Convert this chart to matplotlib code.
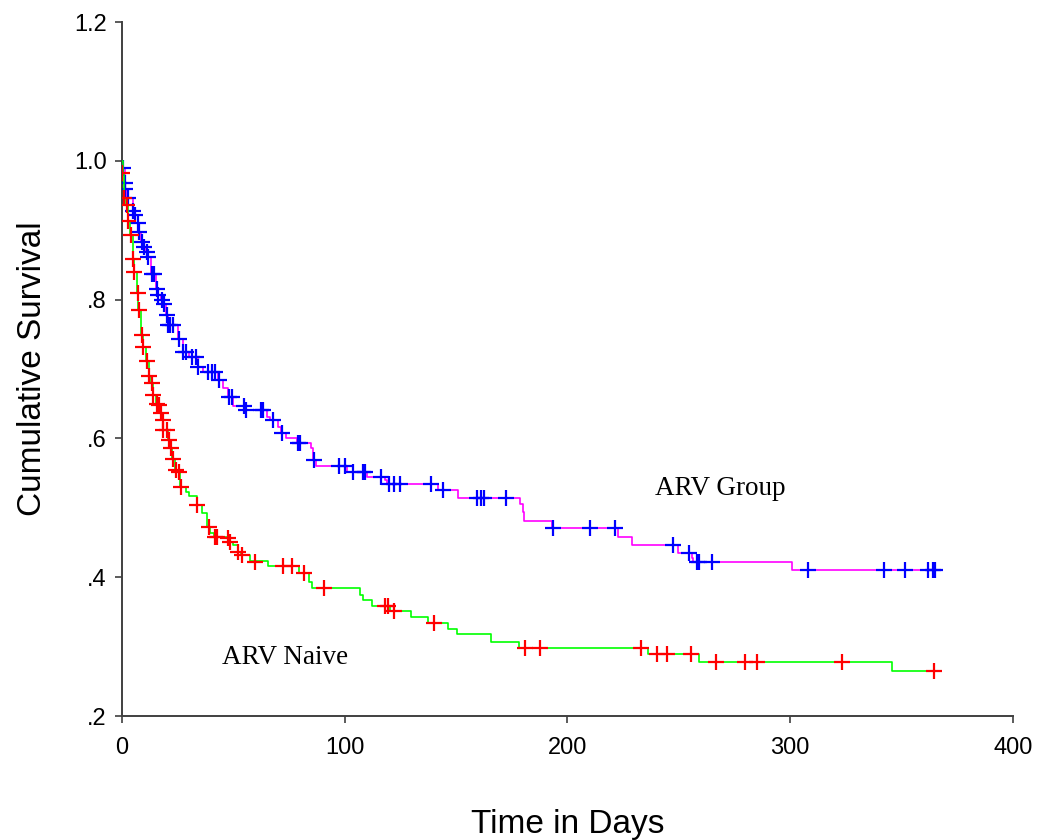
import matplotlib
matplotlib.use("Agg")
import matplotlib.pyplot as plt

# ---- ARV Group (step curve) ----
arv_t = [0, 0.2, 1.2, 1.5, 2.4, 4.8, 5.6, 7.0, 7.5, 8.6, 9.8, 10.8, 11.6, 13.0,
         15.3, 16.1, 17.5, 18.8, 19.8, 20.6, 25.3, 27.2, 30.0, 34.0, 36.5, 43.2,
         45.5, 47.5, 50.0, 55.3, 65.2, 66.5, 69.9, 71.2, 73.6, 78.5, 84.8, 85.9,
         87.1, 101.1, 110.1, 118.0, 118.8, 141.7, 150.7, 178.7, 179.9, 180.6,
         192.9, 222.8, 229.1, 249.7, 255.8, 256.2, 300.9, 365.0]
arv_s = [1.0, 0.989, 0.968, 0.960, 0.946, 0.928, 0.922, 0.910, 0.898, 0.883, 0.876,
         0.869, 0.862, 0.837, 0.815, 0.807, 0.799, 0.794, 0.778, 0.763, 0.743,
         0.725, 0.717, 0.703, 0.696, 0.684, 0.672, 0.660, 0.646, 0.641, 0.631,
         0.627, 0.617, 0.608, 0.600, 0.594, 0.586, 0.569, 0.560, 0.552, 0.544,
         0.540, 0.535, 0.525, 0.514, 0.505, 0.494, 0.481, 0.471, 0.458, 0.447,
         0.435, 0.428, 0.422, 0.410, 0.410]

# ARV Group censored observations
arv_cens_t = [0.3, 1.35, 1.35, 2.6, 5.1, 5.8, 7.3, 7.6, 8.8, 10.0, 11.1, 11.8, 13.3,
              14.5, 15.6, 16.3, 17.8, 19.0, 20.1, 20.8, 21.5, 23.0, 25.6, 27.5, 28.6,
              31.3, 33.1, 34.3, 38.5, 40.3, 41.8, 43.5, 48.0, 49.2, 54.8, 55.7, 62.3,
              63.4, 67.7, 71.7, 79.1, 79.9, 86.2, 97.6, 100.1, 103.6, 108.3, 109.1,
              116.1, 120.0, 122.2, 124.8, 138.7, 144.2, 159.2, 161.0, 162.6, 172.4,
              193.6, 210.1, 221.3, 247.2, 254.7, 258.0, 259.0, 264.7, 308.1, 342.2,
              351.5, 362.0, 364.2, 365.0]
arv_cens_s = [0.989, 0.968, 0.960, 0.946, 0.928, 0.922, 0.910, 0.898, 0.883, 0.876,
              0.869, 0.862, 0.837, 0.837, 0.815, 0.807, 0.799, 0.794, 0.778, 0.763,
              0.763, 0.763, 0.743, 0.725, 0.725, 0.717, 0.717, 0.703, 0.696, 0.696,
              0.696, 0.684, 0.660, 0.660, 0.646, 0.641, 0.641, 0.641, 0.627, 0.608,
              0.594, 0.594, 0.569, 0.560, 0.560, 0.552, 0.552, 0.552, 0.544, 0.535,
              0.535, 0.535, 0.535, 0.525, 0.514, 0.514, 0.514, 0.514, 0.471, 0.471,
              0.471, 0.447, 0.435, 0.422, 0.422, 0.422, 0.410, 0.410, 0.410, 0.410,
              0.410, 0.410]

# ---- ARV Naive (step curve) ----
naive_t = [0, 0.3, 0.8, 2.0, 2.6, 3.8, 4.8, 5.3, 6.8, 7.4, 8.5, 9.4, 10.8, 12.0,
           13.0, 13.9, 15.3, 17.0, 18.0, 18.5, 20.8, 21.8, 22.5, 23.8, 26.2, 28.7,
           29.9, 33.5, 35.8, 38.0, 39.5, 41.5, 47.5, 50.0, 52.0, 53.5, 57.5, 65.7,
           79.6, 84.1, 85.2, 106.8, 108.1, 112.1, 120.4, 129.6, 137.5, 146.5, 150.5,
           165.7, 178.2, 236.3, 259.0, 345.8, 365.0]
naive_s = [1.0, 0.982, 0.947, 0.937, 0.913, 0.893, 0.858, 0.840, 0.809, 0.785, 0.749,
           0.732, 0.711, 0.690, 0.680, 0.662, 0.650, 0.636, 0.626, 0.612, 0.598, 0.586,
           0.570, 0.554, 0.530, 0.523, 0.517, 0.504, 0.492, 0.473, 0.464, 0.458,
           0.451, 0.446, 0.437, 0.432, 0.423, 0.416, 0.4065, 0.3935, 0.384, 0.375,
           0.367, 0.359, 0.351, 0.342, 0.334, 0.326, 0.318, 0.307, 0.298, 0.290,
           0.278, 0.265, 0.265]

naive_cens_t = [0.0, 1.0, 2.1, 2.8, 4.0, 5.1, 5.5, 7.0, 7.6, 8.8, 9.6, 11.1, 12.3,
                13.3, 14.1, 15.6, 16.7, 17.3, 18.3, 18.6, 20.3, 21.1, 22.0, 22.8, 24.1,
                25.7, 26.5, 33.8, 39.1, 41.8, 42.8, 47.7, 48.5, 52.2, 53.7, 59.7, 72.4,
                76.2, 81.8, 90.7, 118.1, 119.6, 122.1, 140.2, 180.9, 187.7, 232.9,
                240.0, 244.5, 255.3, 266.7, 279.7, 285.2, 323.1, 364.7]
naive_cens_s = [0.982, 0.947, 0.937, 0.913, 0.893, 0.858, 0.840, 0.809, 0.785, 0.749,
                0.732, 0.711, 0.690, 0.680, 0.662, 0.650, 0.648, 0.636, 0.626, 0.612,
                0.612, 0.598, 0.586, 0.570, 0.554, 0.552, 0.530, 0.504, 0.473, 0.458,
                0.458, 0.456, 0.451, 0.437, 0.432, 0.422, 0.416, 0.416, 0.4065, 0.384,
                0.359, 0.359, 0.351, 0.334, 0.298, 0.298, 0.298, 0.290, 0.290, 0.290,
                0.278, 0.278, 0.278, 0.278, 0.265]

x_ticks = [0, 100, 200, 300, 400]
y_ticks = [0.2, 0.4, 0.6, 0.8, 1.0, 1.2]
y_tick_labels = [".2", ".4", ".6", ".8", "1.0", "1.2"]

fig = plt.figure(figsize=(10.4, 8.4), dpi=100)
ax = fig.add_axes([0.1173, 0.1476, 0.8567, 0.8262])

ax.step(arv_t, arv_s, where="post", color="#ff00ff", lw=1.2, zorder=2)
ax.plot(arv_cens_t, arv_cens_s, linestyle="none", marker="+", markersize=11,
        markeredgewidth=1.6, color="#0000ff", zorder=3)
ax.step(naive_t, naive_s, where="post", color="#00ff00", lw=1.2, zorder=4)
ax.plot(naive_cens_t, naive_cens_s, linestyle="none", marker="+", markersize=11,
        markeredgewidth=1.6, color="#ff0000", zorder=5)

ax.text(268.5, 0.5285, "ARV Group", fontsize=19.5, family="Liberation Serif",
        ha="center", va="center", color="black")
ax.text(73.2, 0.285, "ARV Naive", fontsize=19.5, family="Liberation Serif",
        ha="center", va="center", color="black")

ax.set_xlim(0, 400)
ax.set_ylim(0.2, 1.2)
ax.set_xticks(x_ticks)
ax.set_yticks(y_ticks)
ax.set_yticklabels(y_tick_labels)
for lab in ax.get_xticklabels() + ax.get_yticklabels():
    lab.set_family("Liberation Sans")
    lab.set_fontsize(17)

ax.spines["top"].set_visible(False)
ax.spines["right"].set_visible(False)
for s in ("left", "bottom"):
    ax.spines[s].set_color("#404040")
    ax.spines[s].set_linewidth(1.4)
ax.tick_params(direction="out", length=5, width=1.2, color="#404040")
ax.tick_params(axis="x", pad=10)
ax.tick_params(axis="y", pad=6)

ax.set_xlabel("Time in Days", fontsize=24, family="Liberation Sans", labelpad=36)
ax.set_ylabel("Cumulative Survival", fontsize=24, family="Liberation Sans", labelpad=19)

fig.savefig("out.png", dpi=100, facecolor="white")
